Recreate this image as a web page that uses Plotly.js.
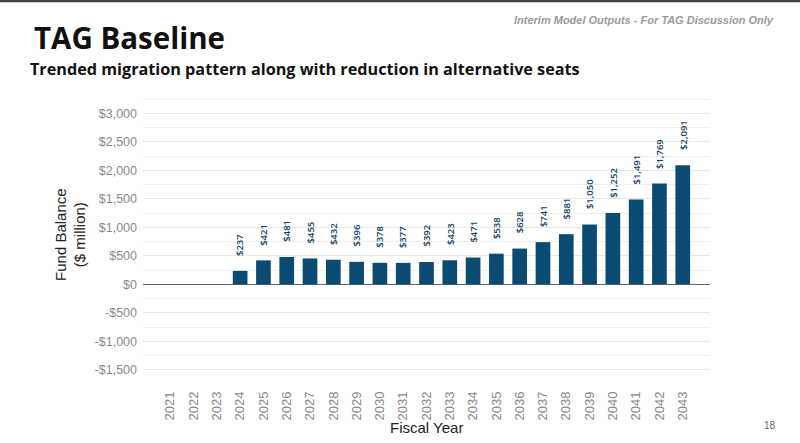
<!DOCTYPE html>
<html>
<head>
<meta charset="utf-8">
<script src="https://cdn.plot.ly/plotly-3.0.1.min.js"></script>
<style>
html,body{margin:0;padding:0;background:#fff;}
#chart{width:800px;height:443px;}
</style>
</head>
<body>
<div id="chart"></div>
<script>
const years = ['2021','2022','2023','2024','2025','2026','2027','2028','2029','2030','2031','2032','2033','2034','2035','2036','2037','2038','2039','2040','2041','2042','2043'];
const fundBalance = [null,null,null,237,421,481,455,432,396,378,377,392,423,471,538,628,741,881,1050,1252,1491,1769,2091];
const valueLabels = ['','','','$237','$421','$481','$455','$432','$396','$378','$377','$392','$423','$471','$538','$628','$741','$881','$1,050','$1,252','$1,491','$1,769','$2,091'];
const yTickVals = [3000,2500,2000,1500,1000,500,0,-500,-1000,-1500];
const yTickText = ['$3,000','$2,500','$2,000','$1,500','$1,000','$500','$0','-$500','-$1,000','-$1,500'];

const barColor = '#0b4a73';
const labelColor = '#123f63';

const trace = {
  type: 'bar',
  x: years,
  y: fundBalance,
  marker: {color: barColor},
  width: 0.63,
  hoverinfo: 'x+y'
};

const annotations = [];
years.forEach((yr, i) => {
  if (fundBalance[i] !== null) {
    annotations.push({
      x: i, y: fundBalance[i], xref: 'x', yref: 'y',
      text: valueLabels[i], showarrow: false, textangle: -90,
      xanchor: 'center', yanchor: 'bottom', yshift: 13,
      font: {family: 'Open Sans, sans-serif', size: 9.5, color: labelColor, weight: 600}
    });
  }
});

annotations.push(
  {xref:'paper', yref:'paper', x:-0.128, y:0.5, text:'Fund Balance<br>($ million)', showarrow:false, textangle:-90,
   xanchor:'center', yanchor:'middle', font:{family:'Liberation Sans Narrow, Liberation Sans, Arial, sans-serif', size:15, color:'#222'}},
  {xref:'paper', yref:'paper', x:0.5, y:-0.17, text:'Fiscal Year', showarrow:false, xanchor:'center', yanchor:'top',
   font:{family:'Liberation Sans Narrow, Liberation Sans, Arial, sans-serif', size:15, color:'#222'}},
  {xref:'paper', yref:'paper', x:-0.195, y:1.222, text:'<b>TAG Baseline</b>', showarrow:false, xanchor:'left', yanchor:'middle',
   font:{family:'Open Sans, sans-serif', size:29.5, color:'#111'}},
  {xref:'paper', yref:'paper', x:-0.203, y:1.108, text:'<b>Trended migration pattern along with reduction in alternative seats</b>', showarrow:false, xanchor:'left', yanchor:'middle',
   font:{family:'Open Sans, sans-serif', size:16.2, color:'#111'}},
  {xref:'paper', yref:'paper', x:1.117, y:1.285, text:'<b><i>Interim Model Outputs - For TAG Discussion Only</i></b>', showarrow:false, xanchor:'right', yanchor:'middle',
   font:{family:'Liberation Sans, Arial, sans-serif', size:11, color:'#9a9a9a'}},
  {xref:'paper', yref:'paper', x:1.12, y:-0.2, text:'18', showarrow:false, xanchor:'right', yanchor:'middle',
   font:{family:'Liberation Sans, Arial, sans-serif', size:10, color:'#666'}}
);

const layout = {
  width: 800, height: 443,
  margin: {l: 143, r: 90, t: 98, b: 72, pad: 0},
  paper_bgcolor: '#fff', plot_bgcolor: '#fff',
  showlegend: false,
  bargap: 0.37,
  xaxis: {
    type: 'category', range: [-1.17, 23.17], tickangle: -90, showgrid: false, zeroline: false,
    ticks: '', showline: false, ticklabelstandoff: 17,
    tickfont: {family: 'Liberation Sans Narrow, Liberation Sans, Arial, sans-serif', size: 13, color: '#888'}
  },
  yaxis: {
    range: [-1520, 3270], tickvals: yTickVals, ticktext: yTickText,
    showgrid: true, gridcolor: '#e8e8e8', gridwidth: 1,
    minor: {dtick: 250, tick0: 0, showgrid: true, gridcolor: '#efefef', gridwidth: 1},
    zeroline: true, zerolinecolor: '#666', zerolinewidth: 1,
    ticks: '', showline: false, ticklabelstandoff: 5,
    tickfont: {family: 'Liberation Sans, Arial, sans-serif', size: 12.5, color: '#8a8a8a'}
  },
  annotations: annotations,
  shapes: [
    {type:'line', xref:'paper', yref:'paper', x0:-0.3, x1:1.3, y0:1.356, y1:1.356, line:{color:'#444', width:3}}
  ]
};

Plotly.newPlot('chart', [trace], layout, {displayModeBar: false, staticPlot: true});
</script>
</body>
</html>
